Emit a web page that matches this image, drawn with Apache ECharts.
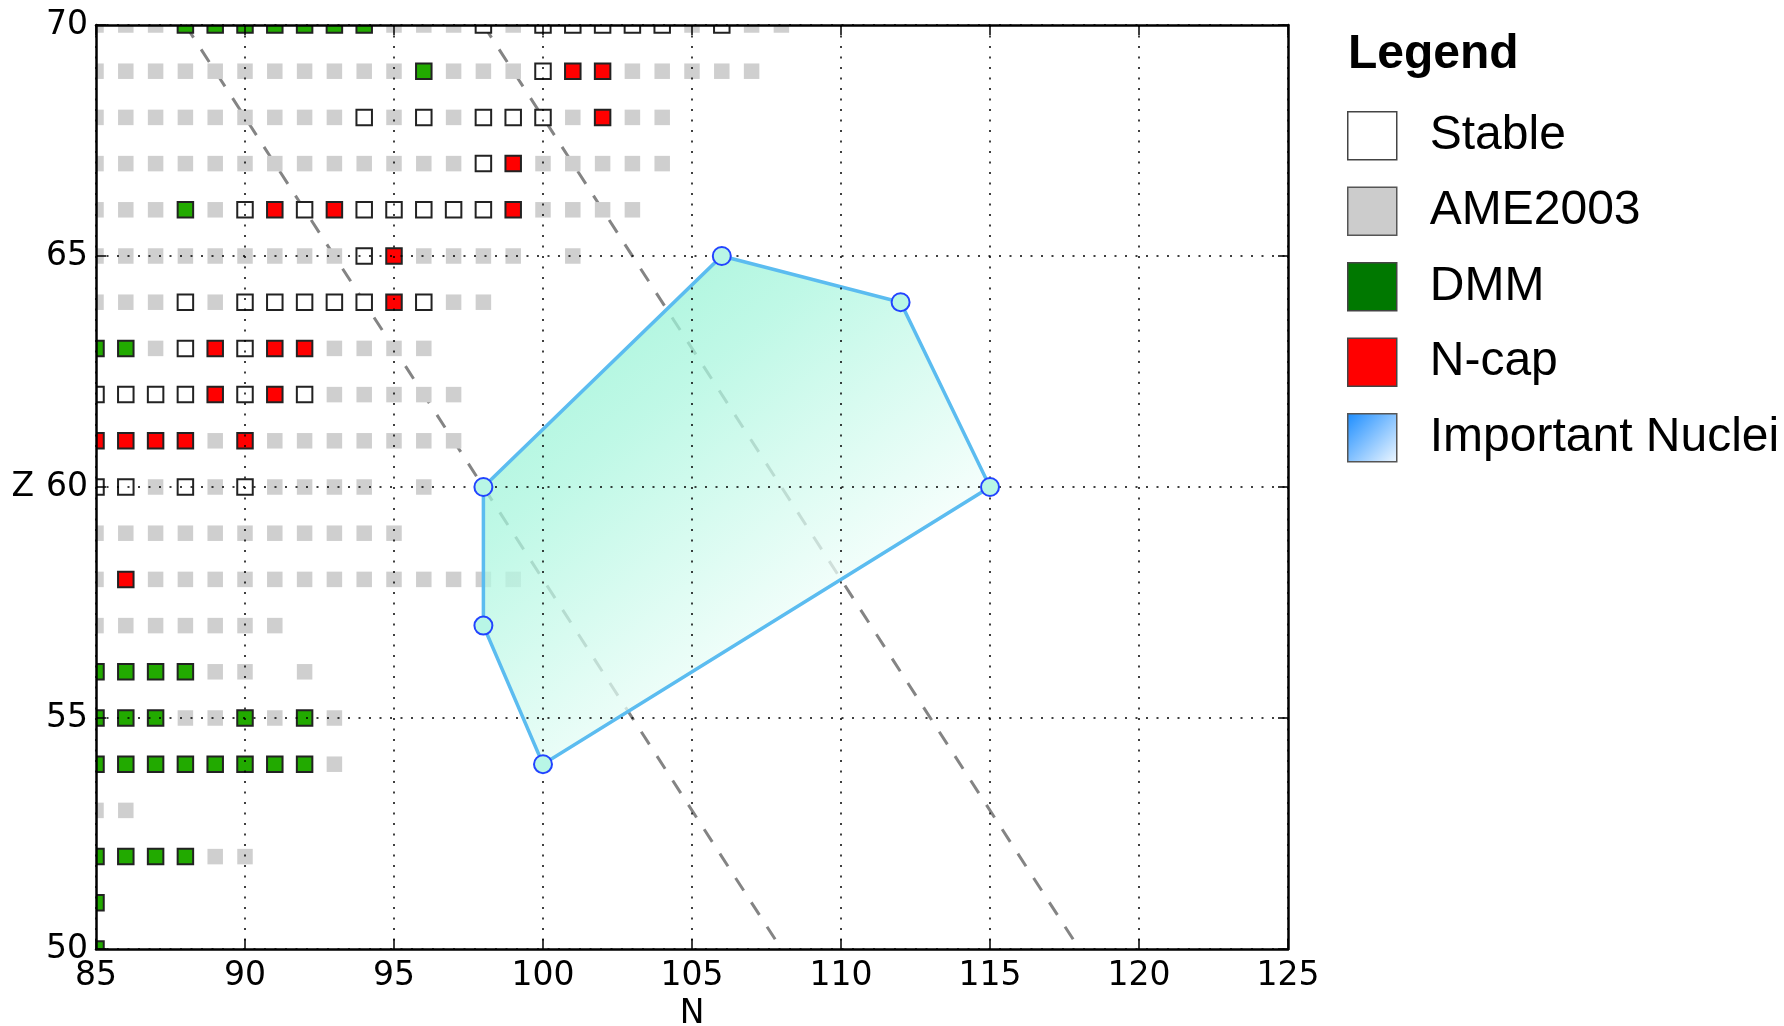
<!DOCTYPE html>
<html>
<head>
<meta charset="utf-8">
<script src="https://cdn.jsdelivr.net/npm/echarts@6/dist/echarts.min.js"></script>
<style>html,body{margin:0;padding:0;background:#fff;overflow:hidden;width:1784px;height:1026px;}#c{position:absolute;left:0;top:0;width:1784px;height:1026px;}</style>
</head>
<body>
<div id="c"></div>
<script>
// ---- DATA (rows: [Z, [N values]]) ----
const stableRows = [
  [70, [98, 100, 101, 102, 103, 104, 106]],
  [69, [100]],
  [68, [94, 96, 98, 99, 100]],
  [67, [98]],
  [66, [90, 92, 94, 95, 96, 97, 98]],
  [65, [94]],
  [64, [88, 90, 91, 92, 93, 94, 96]],
  [63, [88, 90]],
  [62, [85, 86, 87, 88, 90, 92]],
  [60, [85, 86, 88, 90]]
];
const ameRows = [
  [70, [85, 86, 87, 95, 96, 97, 99, 105, 107, 108]],
  [69, [85, 86, 87, 88, 89, 90, 91, 92, 93, 94, 95, 97, 98, 99, 103, 104, 105, 106, 107]],
  [68, [85, 86, 87, 88, 89, 90, 91, 92, 93, 95, 97, 101, 103, 104]],
  [67, [85, 86, 87, 88, 89, 90, 91, 92, 93, 94, 95, 96, 97, 100, 101, 102, 103, 104]],
  [66, [85, 86, 87, 89, 100, 101, 102, 103]],
  [65, [85, 86, 87, 88, 89, 90, 91, 92, 93, 96, 97, 98, 99, 101]],
  [64, [85, 86, 87, 89, 97, 98]],
  [63, [87, 93, 94, 95, 96]],
  [62, [93, 94, 95, 96, 97]],
  [61, [89, 91, 92, 93, 94, 95, 96, 97]],
  [60, [87, 89, 91, 92, 93, 94, 96]],
  [59, [85, 86, 87, 88, 89, 90, 91, 92, 93, 94, 95]],
  [58, [85, 87, 88, 89, 90, 91, 92, 93, 94, 95, 96, 97, 98, 99]],
  [57, [85, 86, 87, 88, 89, 90, 91]],
  [56, [89, 90, 92]],
  [55, [88, 89, 91, 93]],
  [54, [93]],
  [53, [85, 86]],
  [52, [89, 90]]
];
const dmmRows = [
  [70, [88, 89, 90, 91, 92, 93, 94]],
  [69, [96]],
  [66, [88]],
  [63, [85, 86]],
  [56, [85, 86, 87, 88]],
  [55, [85, 86, 87, 90, 92]],
  [54, [85, 86, 87, 88, 89, 90, 91, 92]],
  [52, [85, 86, 87, 88]],
  [51, [85]],
  [50, [85]]
];
const ncapRows = [
  [69, [101, 102]],
  [68, [102]],
  [67, [99]],
  [66, [91, 93, 99]],
  [65, [95]],
  [64, [95]],
  [63, [89, 91, 92]],
  [62, [89, 91]],
  [61, [85, 86, 87, 88, 90]],
  [58, [86]]
];
// Important nuclei polygon vertices
const polyN = [98, 106, 112, 115, 100, 98];
const polyZ = [60, 65, 64, 60, 54, 57];
// Dashed guide lines (endpoints)
const guide1 = [[88, 70], [108, 50]];
const guide2 = [[98, 70], [118, 50]];
// Axis ranges / ticks
const xRange = [85, 125], xStep = 5;
const yRange = [50, 70], yStep = 5;

// ---- build ----
function expand(rows) {
  const out = [];
  rows.forEach(r => r[1].forEach(n => out.push([n, r[0]])));
  return out;
}
const polyData = polyN.map((n, i) => [n, polyZ[i]]);

function squareSeries(name, rows, fill, stroke, lw, size) {
  return {
    name: name, type: 'custom', clip: true, z: 2,
    encode: {x: 0, y: 1},
    itemStyle: {color: fill, borderColor: stroke || fill},
    data: expand(rows),
    renderItem: function (params, api) {
      const c = api.coord([api.value(0), api.value(1)]);
      return {
        type: 'rect',
        shape: {x: c[0] - size / 2, y: c[1] - size / 2, width: size, height: size},
        style: {fill: fill, stroke: stroke || null, lineWidth: lw}
      };
    }
  };
}

const chart = echarts.init(document.getElementById('c'), null, {renderer: 'canvas', width: 1784, height: 1026});
const axisFont = 'DejaVu Sans';
const legFont = 'Liberation Sans';
const grid = {left: 96, top: 25, width: 1192, height: 924, containLabel: false, outerBoundsMode: 'none'};

const option = {
  animation: false,
  backgroundColor: '#fff',
  title: {
    text: 'Legend', left: 1348, top: 31, padding: 0,
    textStyle: {fontFamily: legFont, fontWeight: 'bold', fontSize: 48, lineHeight: 48, color: '#000'}
  },
  legend: {
    orient: 'vertical', left: 1347, top: 111, padding: 0,
    itemWidth: 49, itemHeight: 48, itemGap: 26,
    selectedMode: false,
    textStyle: {fontFamily: legFont, fontSize: 48, lineHeight: 48, color: '#000', padding: [0, 0, 0, 28]},
    data: [
      {name: 'Stable', icon: 'rect', itemStyle: {color: '#ffffff', borderColor: '#444', borderWidth: 1.5}},
      {name: 'AME2003', icon: 'rect', itemStyle: {color: '#cccccc', borderColor: '#555', borderWidth: 1.5}},
      {name: 'DMM', icon: 'rect', itemStyle: {color: '#007800', borderColor: '#444', borderWidth: 1.5}},
      {name: 'N-cap', icon: 'rect', itemStyle: {color: '#ff0000', borderColor: '#444', borderWidth: 1.5}},
      {name: 'Important Nuclei', icon: 'rect', itemStyle: {
        color: new echarts.graphic.LinearGradient(0, 0, 1, 1, [
          {offset: 0, color: '#1a8cff'}, {offset: 1, color: '#f0f8ff'}]),
        borderColor: '#555', borderWidth: 1.5}}
    ]
  },
  grid: grid,
  xAxis: [{
    type: 'value', min: xRange[0], max: xRange[1], interval: xStep, z: 5,
    name: 'N', nameLocation: 'middle', nameGap: 46,
    nameTextStyle: {fontFamily: axisFont, fontSize: 33, color: '#000'},
    axisLine: {lineStyle: {color: '#000', width: 2.5}},
    axisTick: {inside: true, length: 10, lineStyle: {color: '#000', width: 1.5}},
    axisLabel: {fontFamily: axisFont, fontSize: 33, color: '#000', margin: 11},
    splitLine: {show: true, lineStyle: {color: '#000', width: 1.5, type: [2, 8.5]}}
  }, {
    type: 'value', position: 'top', min: xRange[0], max: xRange[1], interval: xStep, z: 5,
    axisLine: {lineStyle: {color: '#000', width: 2.5}},
    axisTick: {inside: true, length: 10, lineStyle: {color: '#000', width: 1.5}},
    axisLabel: {show: false}, splitLine: {show: false}
  }],
  yAxis: [{
    type: 'value', min: yRange[0], max: yRange[1], interval: yStep, z: 5,
    name: 'Z', nameLocation: 'middle', nameGap: 62, nameRotate: 0,
    nameTextStyle: {fontFamily: axisFont, fontSize: 33, color: '#000'},
    axisLine: {lineStyle: {color: '#000', width: 2.5}},
    axisTick: {inside: true, length: 10, lineStyle: {color: '#000', width: 1.5}},
    axisLabel: {fontFamily: axisFont, fontSize: 33, color: '#000', margin: 8},
    splitLine: {show: true, lineStyle: {color: '#000', width: 1.5, type: [2, 8.5]}}
  }, {
    type: 'value', position: 'right', min: yRange[0], max: yRange[1], interval: yStep, z: 5,
    axisLine: {show: true, lineStyle: {color: '#000', width: 2.5}},
    axisTick: {show: true, inside: true, length: 10, lineStyle: {color: '#000', width: 1.5}},
    axisLabel: {show: false}, splitLine: {show: false}
  }],
  series: [
    {type: 'line', data: guide1, symbol: 'none', z: 1, silent: true, clip: true,
     lineStyle: {color: '#848484', width: 3, type: [15, 14]}},
    {type: 'line', data: guide2, symbol: 'none', z: 1, silent: true, clip: true,
     lineStyle: {color: '#848484', width: 3, type: [15, 14]}},
    squareSeries('AME2003', ameRows, '#cfcfcf', null, 0, 15.5),
    squareSeries('Stable', stableRows, '#ffffff', '#222222', 2, 15.5),
    squareSeries('DMM', dmmRows, '#22aa00', '#222222', 2, 15.5),
    squareSeries('N-cap', ncapRows, '#ff0000', '#222222', 2, 15.5),
    {
      name: 'Important Nuclei', type: 'custom', clip: true, z: 3,
      encode: {x: 0, y: 1},
      data: polyData,
      renderItem: function (params, api) {
        if (params.dataIndex !== 0) return null;
        const pts = polyData.map(p => api.coord(p));
        return {
          type: 'polygon',
          shape: {points: pts},
          style: {
            fill: new echarts.graphic.LinearGradient(0, 0, 0.8, 1, [
              {offset: 0, color: 'rgba(125,239,200,0.75)'},
              {offset: 0.35, color: 'rgba(170,246,222,0.75)'},
              {offset: 0.75, color: 'rgba(240,254,250,0.75)'},
              {offset: 1, color: 'rgba(255,255,255,0.75)'}
            ]),
            stroke: '#5bbcf0', lineWidth: 3.5
          }
        };
      }
    },
    {
      name: 'Important Nuclei', type: 'scatter', z: 6, data: polyData,
      symbol: 'circle', symbolSize: 18,
      itemStyle: {color: '#b8f6e6', borderColor: '#2244ff', borderWidth: 2, opacity: 1}
    }
  ]
};
chart.setOption(option);
</script>
</body>
</html>
